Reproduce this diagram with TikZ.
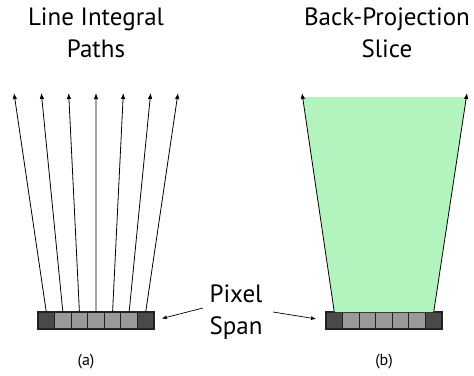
\documentclass[tikz,border=0pt]{standalone}
\usepackage{fontspec}
\setmainfont{PT Sans}
\usetikzlibrary{arrows.meta,calc}
\definecolor{celldark}{HTML}{4A4A4A}
\definecolor{celllight}{HTML}{999999}
\definecolor{cellline}{HTML}{222222}
\definecolor{slicegreen}{HTML}{B3F3BE}
\begin{document}
\begin{tikzpicture}[x=1pt,y=-1pt,
  cell/.style={draw=cellline, line width=1.2pt, minimum width=16.57pt, minimum height=17pt, inner sep=0pt, outer sep=0pt},
  ray/.style={draw=black, line width=0.8pt, -{Latex[length=6pt,width=4.5pt]}},
  ptr/.style={draw=black, line width=0.7pt, -{Latex[length=5pt,width=4pt]}},
  title/.style={align=center, font=\fontsize{25}{32}\selectfont, anchor=base},
  sub/.style={font=\fontsize{16}{19}\selectfont, anchor=base}
]
\useasboundingbox (0,0) rectangle (474,375);

% titles
\node[title] (t1) at (96,57) {Line Integral\\Paths};
\node[title] (t2) at (387,57) {Back-Projection\\Slice};

% bar cells
\foreach \i/\c in {1/celldark,2/celllight,3/celllight,4/celllight,5/celllight,6/celllight,7/celldark}
  \node[cell, fill=\c] (a\i) at ({38+16.571*(\i-0.5)},320.5) {};
\foreach \i/\c in {1/celldark,2/celllight,3/celllight,4/celllight,5/celllight,6/celllight,7/celldark}
  \node[cell, fill=\c] (b\i) at ({326+16.571*(\i-0.5)},320.5) {};
\draw[cellline, line width=1.4pt, rounded corners=1.5pt] (a1.north west) rectangle (a7.south east);
\draw[cellline, line width=1.4pt, rounded corners=1.5pt] (b1.north west) rectangle (b7.south east);

% ray tips
\foreach \i in {1,...,7}
  \coordinate (ta\i) at ({96+27.333*(\i-4)},93);
\coordinate (tb1) at (302,93);
\coordinate (tb7) at (467,93);

% green slice
\fill[slicegreen] (b1.north) -- (b7.north) -- ($(b7.north)!0.9817!(tb7)$) -- ($(b1.north)!0.9817!(tb1)$) -- cycle;

% rays
\foreach \i in {1,...,7}
  \draw[ray] (a\i.north) -- (ta\i);
\draw[ray] (b1.north) -- (tb1);
\draw[ray] (b7.north) -- (tb7);

% pixel span label
\node[title] (ps) at (236,334) {Pixel\\Span};
\coordinate (psl) at (203,308);
\coordinate (psr) at (273,312);
\draw[ptr, shorten >=8pt] (psl) -- (a7.east);
\draw[ptr, shorten >=10pt] (psr) -- (b1.west);

% sub labels
\node[sub] (la) at (86,365) {(a)};
\node[sub] (lb) at (384,365) {(b)};
\end{tikzpicture}
\end{document}
